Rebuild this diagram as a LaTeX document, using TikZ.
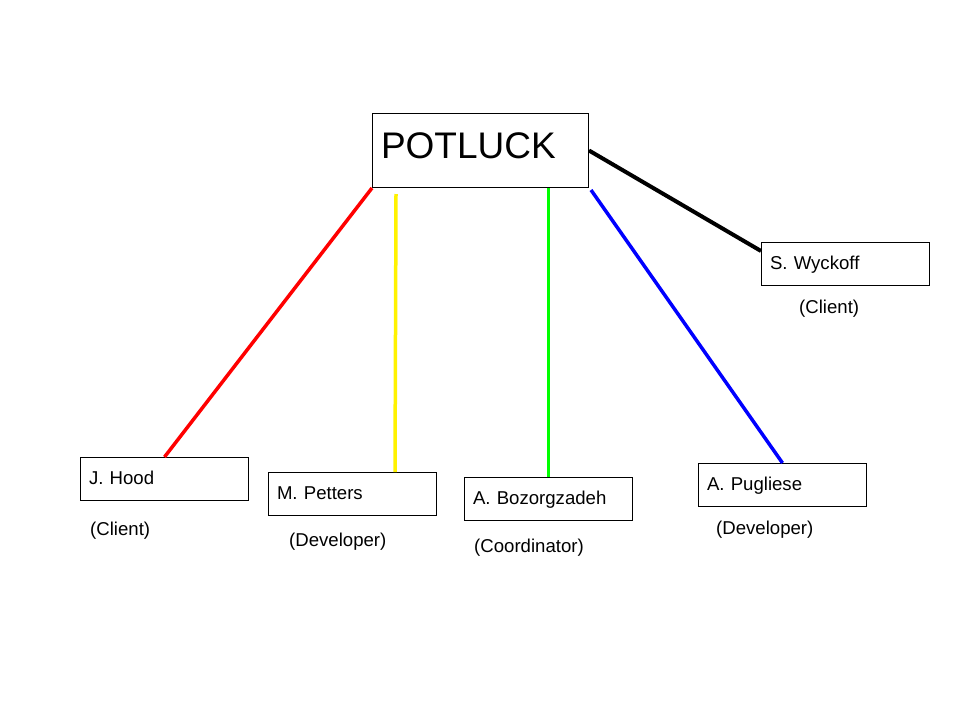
\documentclass[tikz,border=0pt]{standalone}
\usepackage{fontspec}
\setmainfont{Liberation Sans}
\usepackage{tikz}

\begin{document}
\begin{tikzpicture}[x=1pt,y=-1pt,
  member/.style={draw,line width=1pt,anchor=north west,minimum width=168pt,minimum height=43pt,
    inner xsep=8.5pt,text width=151pt,align=left,text height=13pt,text depth=2pt,
    font=\fontsize{18.6}{21}\selectfont},
  role/.style={anchor=base west,inner sep=0pt,font=\fontsize{18.6}{21}\selectfont},
  link/.style={line width=3.5pt}]
\useasboundingbox (0,0) rectangle (960,720);
\node[draw,line width=1pt,anchor=north west,minimum width=216pt,minimum height=74pt,
  inner xsep=8.5pt,text width=199pt,align=left,text height=27pt,text depth=12pt,
  font=\fontsize{37}{42}\selectfont] (potluck) at (372,113) {POTLUCK};
\node[member] (wyckoff) at (761,242) {S. Wyckoff};
\node[member] (hood) at (80,457) {J. Hood};
\node[member] (petters) at (268,472) {M. Petters};
\node[member] (bozorg) at (464,477) {A. Bozorgzadeh};
\node[member] (pugliese) at (698,463) {A. Pugliese};
\node[role] (wyckoffrole) at (799,313) {(Client)};
\node[role] (hoodrole) at (90,535) {(Client)};
\node[role] (pettersrole) at (289,546.5) {(Developer)};
\node[role] (bozorgrole) at (474,552) {(Coordinator)};
\node[role] (puglieserole) at (716,534) {(Developer)};
\draw[line width=4pt] (potluck.east) -- ([yshift=-9pt]wyckoff.north west);
\draw[link,red] (potluck.south west) -- (hood.north);
\draw[link,yellow] ([xshift=24pt,yshift=-6pt]potluck.south west) -- ([xshift=-42pt]petters.north east);
\draw[link,green] (bozorg.north) -- (bozorg.north |- potluck.south);
\draw[link,blue] ([xshift=2pt,yshift=-2pt]potluck.south east) -- (pugliese.north);
\end{tikzpicture}
\end{document}
